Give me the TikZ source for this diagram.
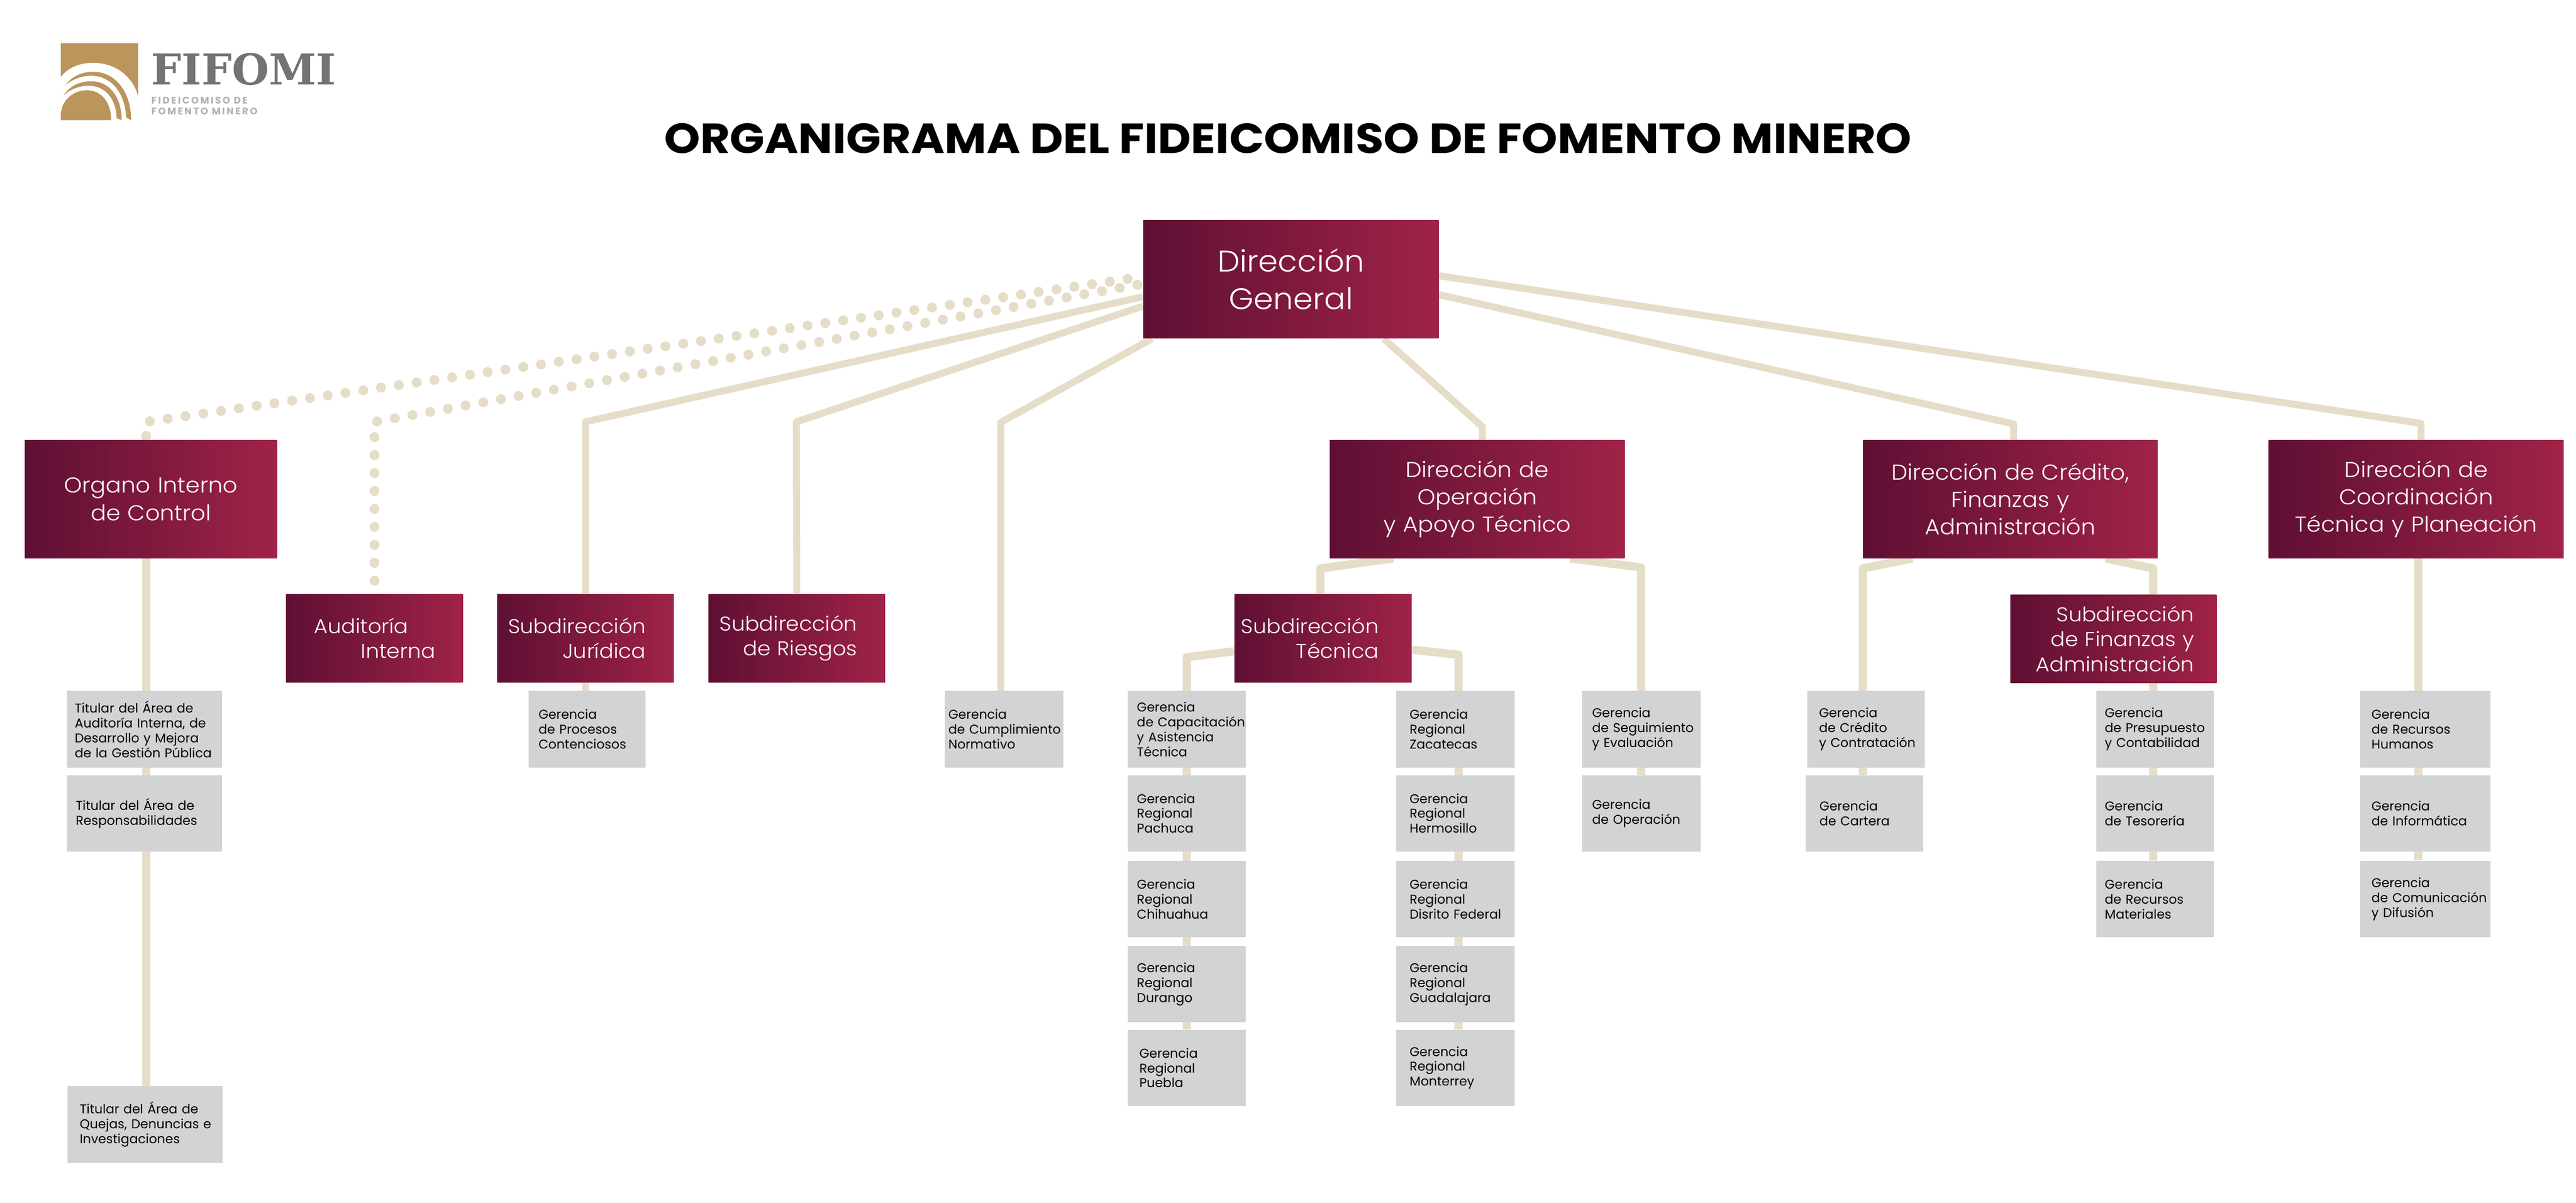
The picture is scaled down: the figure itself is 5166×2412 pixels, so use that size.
\documentclass[tikz,border=0pt]{standalone}
\usepackage{fontspec}
\setmainfont{Poppins}
\newfontfamily\lightfont{Poppins Light}[FakeStretch=1.06]
\newfontfamily\titlefont{Poppins}[FakeStretch=1.086]
\newfontfamily\logofont{DejaVu Serif}
\newfontfamily\logosubfont{Poppins}[LetterSpace=16]
\usetikzlibrary{calc}
\usetikzlibrary{backgrounds}
\definecolor{vinoL}{HTML}{5F0F34}
\definecolor{vinoR}{HTML}{9F2347}
\definecolor{oro}{HTML}{BC955C}
\definecolor{linea}{HTML}{E6DDC8}
\definecolor{gris}{HTML}{D1D3D4}
\hyphenpenalty=10000
\newcommand{\lsep}[2]{\leftskip=#1\relax #2\par}
\newcommand{\rsep}[2]{\rightskip=#1\relax #2\par}
\tikzset{
	dir/.style={left color=vinoL, right color=vinoR, text=white, inner sep=0pt, text width=#1, minimum width=#1, font=\lightfont\fontsize{12.3}{15.6}\selectfont},
	dirbig/.style={dir=#1, font=\lightfont\fontsize{17}{21.5}\selectfont},
	sub/.style={dir=#1, minimum height=1.77cm, font=\lightfont\fontsize{11.4}{14.2}\selectfont},
	ger/.style={fill=gris, inner sep=0pt, text width=#1, minimum width=#1, minimum height=1.53cm, align=left, font=\fontsize{7.3}{8.5}\selectfont},
}
\begin{document}
\begin{tikzpicture}[x=0.01cm, y=-0.01cm]
	\tikzstyle{conn}=[draw=linea, line width=0.14cm, line join=round]
	\tikzstyle{conng}=[draw=linea, line width=0.165cm, line join=round]
	\tikzstyle{dots}=[draw=linea, line width=0.2cm, line cap=round, dash pattern=on 0pt off 0.36cm]
	\useasboundingbox (0,0) rectangle (5166,2412);

	% logo
	\fill[oro] (122,87) rectangle (277,241);
	\fill[white] (122,154) .. controls (138,135) and (160,126) .. (187,126) .. controls (232,126) and (268,155) .. (277,194) -- (277,241) -- (122,241) -- cycle;
	\fill[oro] (131,171) .. controls (145,152) and (165,144) .. (187,144) .. controls (232,144) and (263,185) .. (263,241) -- cycle;
	\fill[white] (131,171) .. controls (145,160) and (162,152) .. (183,152) .. controls (225,152) and (253,190) .. (253,241) -- cycle;
	\fill[oro] (127,192) .. controls (140,172) and (160,163) .. (183,163) .. controls (220,163) and (244,195) .. (244,241) -- cycle;
	\fill[white] (127,192) .. controls (140,180) and (158,172) .. (178,172) .. controls (212,172) and (234,200) .. (234,241) -- cycle;
	\fill[oro] (122,241) -- (122,228) .. controls (124,200) and (148,181) .. (174,181) .. controls (203,181) and (223,205) .. (223,241) -- cycle;
	\node[anchor=base west, inner sep=0pt, text=black!55, font=\logofont\bfseries\fontsize{24.3}{24.3}\selectfont] (logoname) at (303,170) {FIFOMI};
	\node[anchor=base west, inner sep=0pt, text=black!30, align=left, font=\logosubfont\bfseries\fontsize{5.5}{6.3}\selectfont] (logosub) at (303,230) {FIDEICOMISO DE\\FOMENTO MINERO};

	\node[anchor=base, inner sep=0pt, font=\titlefont\bfseries\fontsize{24}{24}\selectfont] (titulo) at (2583,307) {ORGANIGRAMA DEL FIDEICOMISO DE FOMENTO MINERO};

	% direcciones
	\node[dirbig=5.92cm, minimum height=2.37cm, align=center] (dg) at (2589,560) {Dirección\\General};
	\node[dir=5.05cm, minimum height=2.36cm, align=center] (oic) at (302.5,1001) {Organo Interno\\de Control};
	\node[dir=5.91cm, minimum height=2.36cm, align=center] (dop) at (2962.5,1001) {Dirección de\\Operación\\y Apoyo Técnico};
	\node[dir=5.91cm, minimum height=2.36cm, align=center] (dcr) at (4031.5,1001) {Dirección de Crédito,\\Finanzas y\\Administración};
	\node[dir=5.91cm, minimum height=2.36cm, align=center] (dco) at (4845.5,1001) {Dirección de\\Coordinación\\Técnica y Planeación};

	% subdirecciones
	\node[sub=3.54cm, align=right] (aud) at (751,1280) {\rsep{0.55cm}{Auditoría\hspace*{0.54cm}\mbox{}\\Interna}};
	\node[sub=3.54cm, align=right] (sju) at (1174,1280) {\rsep{0.56cm}{Subdirección\\Jurídica}};
	\node[sub=3.54cm, align=right] (sri) at (1598,1280) {\rsep{0.56cm}{Subdirección\\de Riesgos}};
	\node[sub=3.55cm, align=right] (ste) at (2653.5,1280) {\rsep{0.66cm}{Subdirección\\Técnica}};
	\node[sub=4.13cm, align=right] (sfi) at (4238.5,1281) {\rsep{0.45cm}{Subdirección\\de Finanzas y\\Administración}};

	% gerencias
	\node[ger=3.11cm] (t1) at (289.5,1462.5) {\lsep{0.16cm}{Titular del Área de\\Auditoría Interna, de\\Desarrollo y Mejora\\de la Gestión Pública}};
	\node[ger=3.11cm] (t2) at (289.5,1631) {\lsep{0.18cm}{Titular del Área de\\Responsabilidades}};
	\node[ger=3.11cm] (t3) at (290.5,2255) {\lsep{0.25cm}{Titular del Área de\\Quejas, Denuncias e\\Investigaciones}};
	\node[ger=2.35cm] (gpc) at (1177.5,1462.5) {\lsep{0.20cm}{Gerencia\\de Procesos\\Contenciosos}};
	\node[ger=2.37cm] (gcn) at (2013.5,1462.5) {\lsep{0.07cm}{Gerencia\\de Cumplimiento\\Normativo}};

	\node[ger=2.36cm] (gca) at (2380,1462.5) {\lsep{0.18cm}{Gerencia\\\mbox{de Capacitación}\\y Asistencia\\Técnica}};
	\node[ger=2.36cm] (gpa) at (2380,1631) {\lsep{0.18cm}{Gerencia\\Regional\\Pachuca}};
	\node[ger=2.36cm] (gch) at (2380,1803) {\lsep{0.18cm}{Gerencia\\Regional\\Chihuahua}};
	\node[ger=2.36cm] (gdu) at (2380,1973.5) {\lsep{0.18cm}{Gerencia\\Regional\\Durango}};
	\node[ger=2.36cm] (gpu) at (2380,2141.5) {\lsep{0.23cm}{Gerencia\\Regional\\Puebla}};

	\node[ger=2.37cm] (gza) at (2918.5,1462.5) {\lsep{0.27cm}{Gerencia\\Regional\\Zacatecas}};
	\node[ger=2.37cm] (ghe) at (2918.5,1631) {\lsep{0.27cm}{Gerencia\\Regional\\Hermosillo}};
	\node[ger=2.37cm] (gdf) at (2918.5,1803) {\lsep{0.27cm}{Gerencia\\Regional\\Disrito Federal}};
	\node[ger=2.37cm] (ggu) at (2918.5,1973.5) {\lsep{0.27cm}{Gerencia\\Regional\\Guadalajara}};
	\node[ger=2.37cm] (gmo) at (2918.5,2141.5) {\lsep{0.27cm}{Gerencia\\Regional\\Monterrey}};

	\node[ger=2.37cm] (gse) at (3291.5,1462.5) {\lsep{0.20cm}{Gerencia\\de Seguimiento\\y Evaluación}};
	\node[ger=2.37cm] (gop) at (3291.5,1631) {\lsep{0.20cm}{Gerencia\\de Operación}};

	\node[ger=2.36cm] (gcr) at (3742,1462.5) {\lsep{0.24cm}{Gerencia\\de Crédito\\y Contratación}};
	\node[ger=2.36cm] (gct) at (3739,1631) {\lsep{0.28cm}{Gerencia\\de Cartera}};

	\node[ger=2.36cm] (gpr) at (4322,1462.5) {\lsep{0.17cm}{Gerencia\\de Presupuesto\\y Contabilidad}};
	\node[ger=2.36cm] (gte) at (4322,1631) {\lsep{0.17cm}{Gerencia\\de Tesorería}};
	\node[ger=2.36cm] (grm) at (4322,1803) {\lsep{0.17cm}{Gerencia\\de Recursos\\Materiales}};

	\node[ger=2.61cm] (grh) at (4863.5,1462.5) {\lsep{0.23cm}{Gerencia\\de Recursos\\Humanos}};
	\node[ger=2.61cm] (gin) at (4863.5,1631) {\lsep{0.23cm}{Gerencia\\de Informática}};
	\node[ger=2.61cm] (gco) at (4863.5,1803) {\lsep{0.23cm}{Gerencia\\de Comunicación\\y Difusión}};

	% quiebres de las lineas
	\coordinate (boic) at (293,846);
	\coordinate (baud) at (751,846);
	\coordinate (bsju) at (1174,846);
	\coordinate (bsri) at (1597,846);
	\coordinate (bgcn) at (2007,847);
	\coordinate (bdop) at (2973,856);
	\coordinate (bdcr) at (4038,850);
	\coordinate (bdco) at (4855,849);
	\coordinate (bste) at (2648,1140);
	\coordinate (bgse) at (3291,1138);
	\coordinate (bgca) at (2380,1318);
	\coordinate (bgza) at (2925,1313);
	\coordinate (bgcr) at (3736,1140);
	\coordinate (bsfi) at (4318,1140);
	\coordinate (lco) at (4850,1119);

	\begin{scope}[on background layer]
		\draw[dots] ($(oic.north -| boic)+(0,-8)$) -- (boic) -- ($(dg.west)+(0,-5)$);
		\draw[dots] ($(aud.north)+(0,-26)$) -- (baud) -- ($(dg.west)+(0,9)$);
		\draw[conn] ($(dg.west)+(0,35)$) -- (bsju) -- (sju) -- (gpc.north -| sju);
		\draw[conn] ($(dg.west)+(0,54)$) -- (bsri) -- (sri);
		\draw[conn] ($(dg.south)+(-279,0)$) -- (bgcn) -- (bgcn |- gcn.north);
		\draw[conn] ($(dg.south)+(186,0)$) -- (bdop) -- (bdop |- dop.north);
		\draw[conn] ($(dg.east)+(0,31)$) -- (bdcr) -- (bdcr |- dcr.north);
		\draw[conn] ($(dg.east)+(0,-7)$) -- (bdco) -- (bdco |- dco.north);

		\draw[conng] (boic |- oic.south) -- (boic |- t3.north);
		\draw[conng] ($(dop.south)+(-168,0)$) -- (bste) -- (bste |- ste.north);
		\draw[conng] ($(dop.south)+(186,0)$) -- (bgse) -- (bgse |- gop.north);
		\draw[conng] ($(ste.west)+(0,26)$) -- (bgca) -- (bgca |- gpu.north);
		\draw[conng] ($(ste.east)+(0,23)$) -- (bgza) -- (bgza |- gmo.north);
		\draw[conng] ($(dcr.south)+(-196,0)$) -- (bgcr) -- (bgcr |- gct.north);
		\draw[conng] ($(dcr.south)+(191.5,0)$) -- (bsfi) -- (bsfi |- grm.north);
		\draw[conng] (lco) -- (lco |- gco.north);
	\end{scope}
\end{tikzpicture}
\end{document}
